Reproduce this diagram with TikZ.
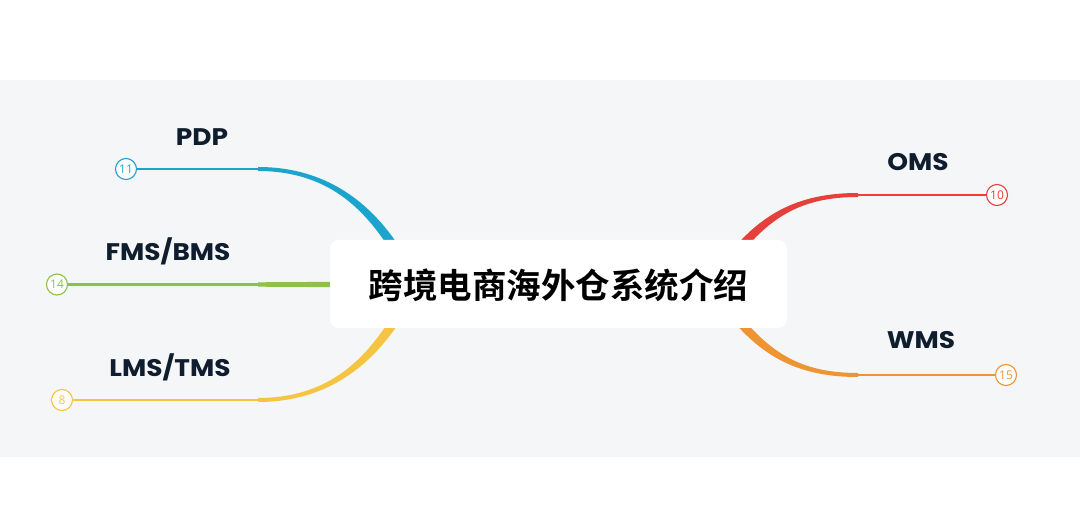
\documentclass[tikz,border=0pt]{standalone}
\usepackage{fontspec}
\newfontfamily\cjk{Noto Sans CJK SC}[UprightFont={* Bold}]
\newfontfamily\labfont{Poppins}[FakeStretch=1.1]
\newfontfamily\numfont{Open Sans}
\definecolor{bandbg}{HTML}{F5F6F8}
\definecolor{cblue}{HTML}{1BA5CE}
\definecolor{cgreen}{HTML}{8DC14B}
\definecolor{cyellow}{HTML}{F6C443}
\definecolor{cred}{HTML}{E5403A}
\definecolor{corange}{HTML}{EE9432}
\definecolor{navy}{HTML}{0F1D2E}
\tikzset{
  thinline/.style={line width=2.2pt},
  numcircle/.style={circle, draw=#1, line width=1.1pt, fill=white, minimum size=21pt, inner sep=0pt, text=#1, font=\numfont\fontsize{12}{12}\selectfont},
  lab/.style={text=navy, font=\labfont\bfseries\fontsize{24}{24}\selectfont, inner sep=0pt},
  titlebox/.style={fill=white, rounded corners=9pt, minimum width=457pt, minimum height=88pt, inner sep=0pt},
}
\begin{document}
\begin{tikzpicture}[x=1pt,y=-1pt]
\useasboundingbox (0,0) rectangle (1080,510);
\fill[white] (0,0) rectangle (1080,510);
\fill[bandbg] (0,80) rectangle (1080,457);

% circles (nodes)
\node[numcircle=cblue] (c11) at (126,169) {11};
\node[numcircle=cgreen] (c14) at (57,284.5) {14};
\node[numcircle=cyellow] (c8) at (62,400) {8};
\node[numcircle=cred] (c10) at (997,195) {10};
\node[numcircle=corange] (c15) at (1006,375) {15};

% joint coordinates
\coordinate (jp) at (258,169);
\coordinate (jf) at (258,284.5);
\coordinate (jl) at (258,400);
\coordinate (jo) at (858,195);
\coordinate (jw) at (858,375);

% thin lines
\draw[thinline, cblue] (c11.east) -- ([xshift=1pt]jp);
\draw[thinline, cgreen] (c14.east) -- ([xshift=1pt]jf);
\draw[thinline, cyellow] (c8.east) -- ([xshift=1pt]jl);
\draw[thinline, cred] (c10.west) -- ([xshift=-1pt]jo);
\draw[thinline, corange] (c15.west) -- ([xshift=-1pt]jw);

% tapered branches
\fill[cblue] (258,167) .. controls (335,167) and (376.8,212.5) .. (399.8,247.5)
  -- (392.2,252.5) .. controls (369.2,217.5) and (335,171) .. (258,171) -- cycle;
\fill[cyellow] (258,402) .. controls (335,402) and (376.8,356.5) .. (399.8,321.5)
  -- (392.2,316.5) .. controls (369.2,351.5) and (335,398) .. (258,398) -- cycle;
\fill[cgreen] (258,282.3) -- (340,281.8) -- (340,287.2) -- (258,286.7) -- cycle;
\fill[cred] (858,193) .. controls (800,193) and (761.4,212.3) .. (726.4,257.3)
  -- (733.6,262.7) .. controls (768.6,217.7) and (800,197) .. (858,197) -- cycle;
\fill[corange] (858,377) .. controls (800,377) and (761.4,357.7) .. (726.4,312.7)
  -- (733.6,307.3) .. controls (768.6,352.3) and (800,373) .. (858,373) -- cycle;

% central box
\node[titlebox] (root) at (558.5,284) {};
\node[inner sep=0pt, font=\cjk\fontsize{34.5}{34.5}\selectfont, text=black] (title) at (558.5,285) {跨境电商海外仓系统介绍};

% labels
\node[lab] (pdp) at (202,137) {PDP};
\node[lab] (fms) at (168,251) {FMS/BMS};
\node[lab] (lms) at (170,367) {LMS/TMS};
\node[lab] (oms) at (918,162) {OMS};
\node[lab] (wms) at (921,340) {WMS};
\end{tikzpicture}
\end{document}
